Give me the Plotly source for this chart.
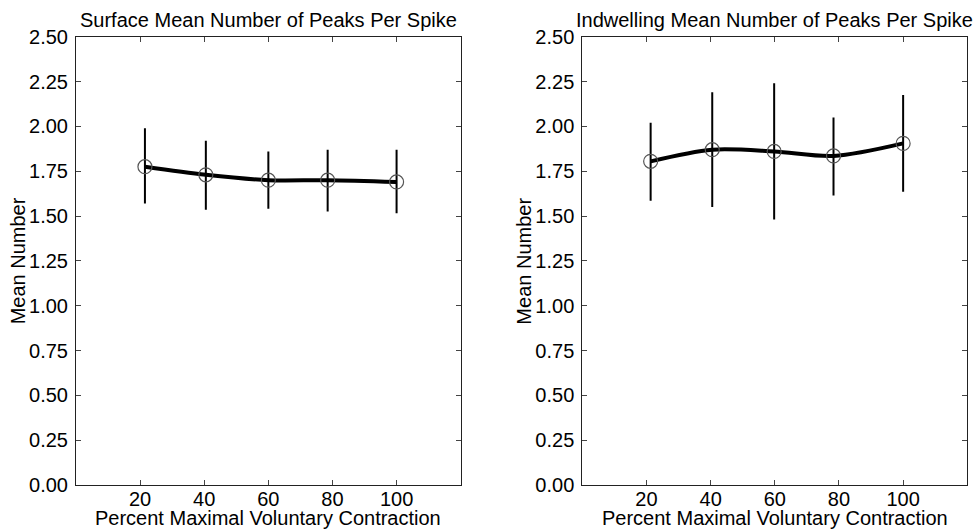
import plotly.graph_objects as go

# ---- data ----
pct_surface = [21.5, 40.5, 60.0, 78.5, 100.0]
mean_surface = [1.775, 1.73, 1.70, 1.70, 1.69]
upper_surface = [1.99, 1.92, 1.86, 1.87, 1.87]
lower_surface = [1.57, 1.535, 1.54, 1.525, 1.515]

pct_indwelling = [21.3, 40.5, 59.8, 78.3, 100.0]
mean_indwelling = [1.805, 1.87, 1.86, 1.835, 1.905]
upper_indwelling = [2.02, 2.19, 2.24, 2.05, 2.175]
lower_indwelling = [1.585, 1.55, 1.48, 1.615, 1.635]

titles = ["Surface Mean Number of Peaks Per Spike",
          "Indwelling Mean Number of Peaks Per Spike"]
x_label = "Percent Maximal Voluntary Contraction"
y_label = "Mean Number"
x_ticks = [20, 40, 60, 80, 100]
y_ticks = [0, 0.25, 0.5, 0.75, 1.0, 1.25, 1.5, 1.75, 2.0, 2.25, 2.5]

W, H = 979, 531
FONT = "Liberation Sans, Arial, Helvetica, sans-serif"
FS = 20

fig = go.Figure()

panels = [
    (pct_surface, mean_surface, upper_surface, lower_surface, "x", "y"),
    (pct_indwelling, mean_indwelling, upper_indwelling, lower_indwelling, "x2", "y2"),
]
for xs, ms, up, lo, xa, ya in panels:
    fig.add_trace(go.Scatter(
        x=xs, y=ms, mode="lines", line=dict(color="black", width=4, shape="spline", smoothing=0.9),
        xaxis=xa, yaxis=ya, showlegend=False, hoverinfo="skip"))
    fig.add_trace(go.Scatter(
        x=xs, y=ms, mode="markers",
        marker=dict(symbol="circle-open", size=14, color="#555555", line=dict(width=1.2, color="#555555")),
        error_y=dict(type="data", symmetric=False,
                     array=[u - m for u, m in zip(up, ms)],
                     arrayminus=[m - l for m, l in zip(ms, lo)],
                     color="black", thickness=2, width=0),
        xaxis=xa, yaxis=ya, showlegend=False))

x_dom = [[76 / W, 460.7 / W], [582.3 / W, 967.3 / W]]
y_dom = [(H - 485) / H, (H - 36.7) / H]

axis_common = dict(showline=True, linecolor="#222222", linewidth=1, mirror="ticks",
                   ticks="inside", ticklen=5, tickcolor="#444444", tickwidth=1,
                   showgrid=False, zeroline=False, automargin=False,
                   tickfont=dict(family=FONT, size=FS, color="black"))

layout = dict(
    width=W, height=H, margin=dict(l=0, r=0, t=0, b=0, autoexpand=False),
    plot_bgcolor="white", paper_bgcolor="white",
    font=dict(family=FONT, size=FS, color="black"),
)
for i in range(2):
    sx = "" if i == 0 else "2"
    layout["xaxis" + sx] = dict(domain=x_dom[i], range=[0, 120], tickvals=x_ticks,
                                anchor="y" + sx, ticklabelstandoff=-4, **axis_common)
    layout["yaxis" + sx] = dict(domain=y_dom, range=[0, 2.5], tickvals=y_ticks, tickformat=".2f",
                                anchor="x" + sx, ticklabelstandoff=3, **axis_common)
fig.update_layout(**layout)

anns = []
for i in range(2):
    cx = (x_dom[i][0] + x_dom[i][1]) / 2
    anns.append(dict(text=titles[i], x=cx, y=(H - 33) / H, xref="paper", yref="paper",
                     xanchor="center", yanchor="bottom", showarrow=False,
                     font=dict(family=FONT, size=FS, color="black")))
    anns.append(dict(text=x_label, x=cx, y=0, xref="paper", yref="paper",
                     xanchor="center", yanchor="bottom", showarrow=False,
                     font=dict(family=FONT, size=FS, color="black")))
    lx = x_dom[i][0] - 58.5 / W
    anns.append(dict(text=y_label, x=lx, y=(y_dom[0] + y_dom[1]) / 2, xref="paper", yref="paper",
                     xanchor="center", yanchor="middle", showarrow=False, textangle=-90,
                     font=dict(family=FONT, size=FS, color="black")))
fig.update_layout(annotations=anns)

fig.write_html("out.html")
